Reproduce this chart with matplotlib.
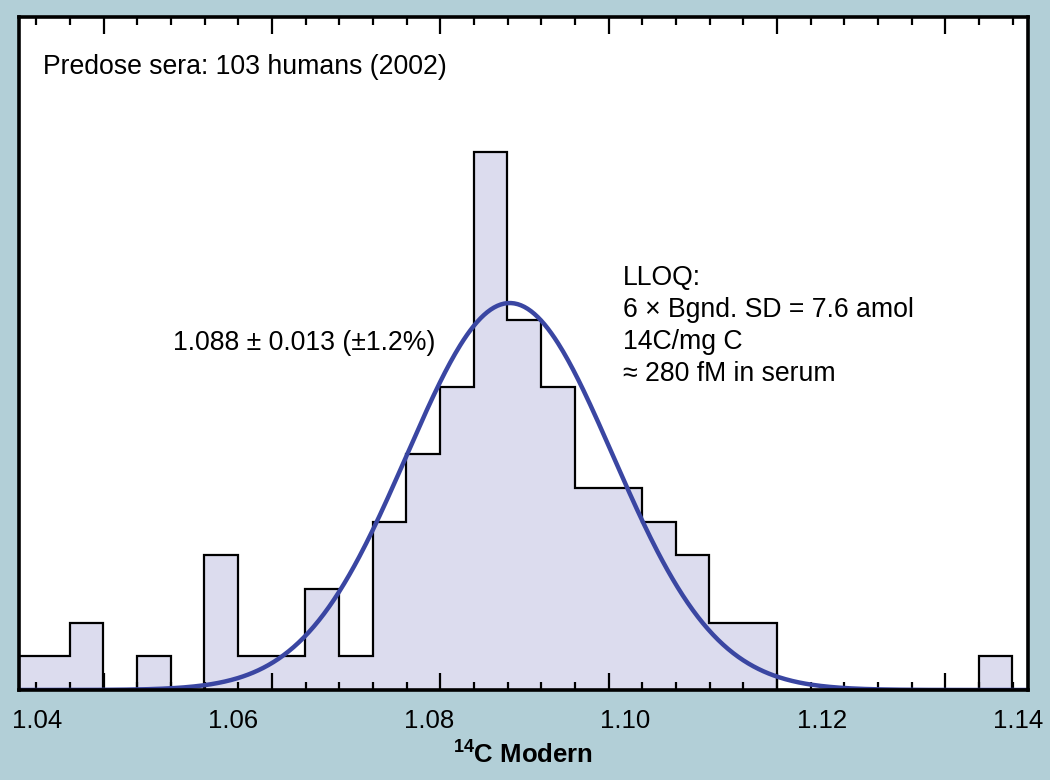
import numpy as np
import matplotlib
matplotlib.use("Agg")
import matplotlib.pyplot as plt
from matplotlib.ticker import MultipleLocator

plt.rcParams['font.family'] = ['Liberation Sans', 'DejaVu Sans']
plt.rcParams['mathtext.fontset'] = 'custom'
plt.rcParams['mathtext.rm'] = 'Liberation Sans'
plt.rcParams['mathtext.bf'] = 'Liberation Sans:bold'

# histogram of 14C modern values
first_bar_count = 1          # partial bar at the left edge of the axis
bin_start = 1.04336
bin_width = 0.00343
counts = [2, 0, 1, 0, 4, 1, 1, 3, 1, 5, 7, 9, 16, 11, 9, 6, 6, 5, 4, 2, 2,
          0, 0, 0, 0, 0, 0, 1]

# gaussian fit
fit_mean = 1.0882
fit_sd = 0.0105
fit_peak = 11.5

# axis
x_min, x_max = 1.0382, 1.1410
label_ticks = [1.04, 1.06, 1.08, 1.10, 1.12, 1.14]
mark_origin = 1.04683
mark_major = 0.01715
mark_minor = 0.00343

annot_fit = "1.088 \u00b1 0.013 (\u00b11.2%)"
title_text = "Predose sera: 103 humans (2002)"
lloq_lines = ["LLOQ:", "6 \u00d7 Bgnd. SD = 7.6 amol", "14C/mg C",
              "\u2248 280 fM in serum"]

bg = '#b2cfd7'
fill = '#dcdcee'
curve_col = '#3a46a2'

fig = plt.figure(figsize=(10.5, 7.8), dpi=100, facecolor=bg)
ax = fig.add_axes([19 / 1050, 1 - 690 / 780, 1009 / 1050, 673 / 780])
ax.set_facecolor('white')

edges = np.r_[x_min, bin_start + bin_width * np.arange(len(counts) + 1)]
values = np.r_[first_bar_count, counts]
ax.stairs(values, edges, fill=True, color=fill, zorder=1)
ax.stairs(values, edges, baseline=0, fill=False, color='black', lw=1.6, zorder=2)

xs = np.linspace(x_min, x_max, 600)
ax.plot(xs, fit_peak * np.exp(-(xs - fit_mean) ** 2 / (2 * fit_sd ** 2)),
        color=curve_col, lw=3.2, zorder=3, solid_capstyle='round')

ax.set_xlim(x_min, x_max)
ax.set_ylim(0, 20)
ax.set_yticks([])

# tick marks (unlabelled), top and bottom, pointing in
ax.xaxis.set_major_locator(MultipleLocator(mark_major, offset=mark_origin % mark_major))
ax.xaxis.set_minor_locator(MultipleLocator(mark_minor, offset=mark_origin % mark_minor))
ax.tick_params(axis='x', which='both', direction='in', top=True, bottom=True,
               labelbottom=False, width=1.6, color='black')
ax.tick_params(axis='x', which='major', length=12)
ax.tick_params(axis='x', which='minor', length=6)

for s in ax.spines.values():
    s.set_linewidth(2.6)
    s.set_zorder(4)

sec = ax.secondary_xaxis('bottom')
sec.set_xticks(label_ticks)
sec.set_xticklabels(['%.2f' % v for v in label_ticks])
sec.tick_params(length=0, pad=14, labelsize=18.5)
sec.spines['bottom'].set_visible(False)
sec.set_xlabel(r'$\mathbf{{}^{14}}$C Modern', fontsize=18.5, fontweight='bold', labelpad=6)

ax.text(0.0238, 0.9153, title_text, transform=ax.transAxes, fontsize=19.2,
        va='baseline', ha='left')
ax.text(0.1526, 0.5052, annot_fit, transform=ax.transAxes, fontsize=19.2,
        va='baseline', ha='left')
for i, line in enumerate(lloq_lines):
    ax.text(0.5986, 0.6018 - i * 0.0475, line, transform=ax.transAxes,
            fontsize=19.2, va='baseline', ha='left')

fig.savefig('out.png', dpi=100, facecolor=bg)
